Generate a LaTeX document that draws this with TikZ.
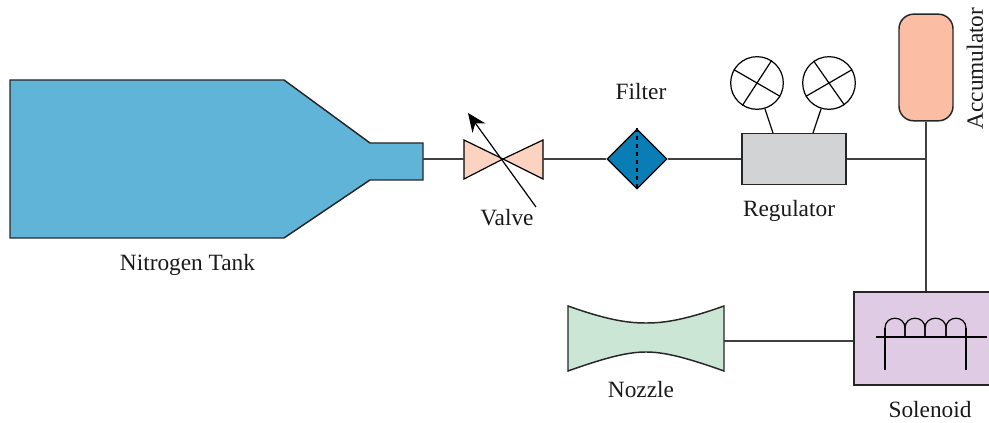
\documentclass[tikz,border=0pt]{standalone}
\usepackage{fontspec}
\setmainfont{Liberation Serif}
\usetikzlibrary{positioning,shapes.geometric,arrows.meta}
\definecolor{tankblue}{HTML}{5FB4D8}
\definecolor{valvepink}{HTML}{FCD3C0}
\definecolor{filterblue}{HTML}{0B7DB5}
\definecolor{reggrey}{HTML}{D1D3D4}
\definecolor{accpink}{HTML}{FBBDA4}
\definecolor{nozzlegreen}{HTML}{CCE6D6}
\definecolor{solpurple}{HTML}{DFCCE4}

\begin{document}
\begin{tikzpicture}[
  x=0.75pt, y=-0.75pt,
  pipe/.style = {draw=black!75, line width=1.1pt},
  part/.style = {draw=black!85, line width=1.1pt},
  thin part/.style = {draw=black, line width=0.9pt},
  label/.style = {font=\fontsize{17.5}{19}\selectfont, text=black!90, inner sep=0pt},
  gauge/.style = {shape=circle, thin part, fill=white, minimum size=39.5pt, inner sep=0pt}
    ]
  \useasboundingbox (0,0) rectangle (989,423);

  % tank
  \draw[part, fill=tankblue] (10,80) -- (284,80) -- (370,143) -- (423,143) -- (423,180)
    -- (370,180) -- (284,238) -- (10,238) -- cycle;
  \coordinate (tankout) at (423,159);
  \node[label] (tanklabel) at (187.5,265) {Nitrogen Tank};

  % valve
  \coordinate (valvein) at (464,159);
  \coordinate (valvemid) at (503,159);
  \coordinate (valveout) at (543,159);
  \draw[thin part, fill=valvepink] (464,140) -- (valvemid) -- (464,179) -- cycle;
  \draw[thin part, fill=valvepink] (543,140) -- (valvemid) -- (543,179) -- cycle;
  \coordinate (valvetail) at (536,207);
  \coordinate (valvetip) at (468,113);
  \draw[thin part, -{Stealth[length=14pt,width=12pt]}] (valvetail) -- (valvetip);
  \node[label] (valvelabel) at (507,218) {Valve};

  % filter
  \node[shape=diamond, thin part, fill=filterblue, minimum size=45pt, inner sep=0pt] (filter) at (637,159) {};
  \draw[thin part, dashed] (filter.north) -- (filter.south);
  \node[label] (filterlabel) at (641,92) {Filter};

  % regulator
  \node[shape=rectangle, part, fill=reggrey, minimum width=78pt, minimum height=38pt, inner sep=0pt] (regulator) at (794,159) {};
  \node[label] (regulatorlabel) at (789,211) {Regulator};
  \node[gauge] (gaugeL) at (757,83) {};
  \node[gauge] (gaugeR) at (829,83) {};
  \draw[thin part] (gaugeL.150) -- (gaugeL.-30) (gaugeL.57) -- (gaugeL.237);
  \draw[thin part] (gaugeR.30) -- (gaugeR.210) (gaugeR.125) -- (gaugeR.-55);
  \coordinate (stemL) at (773,133);
  \coordinate (stemR) at (813,133);
  \draw[thin part] (gaugeL.-73) -- (stemL);
  \draw[thin part] (gaugeR.-107) -- (stemR);

  % accumulator
  \node[shape=rectangle, part, fill=accpink, rounded corners=11pt, minimum width=40.5pt, minimum height=80pt, inner sep=0pt] (accumulator) at (926,67.5) {};
  \node[label, rotate=90] (accumulatorlabel) at (975,68.5) {Accumulator};

  % solenoid
  \node[shape=rectangle, part, fill=solpurple, minimum width=103pt, minimum height=70pt, inner sep=0pt] (solenoid) at (922.7,338.5) {};
  \node[label] (solenoidlabel) at (930,410) {Solenoid};
  \draw[thin part] (876,337) -- (987,337);
  \draw[thin part] (885,370) -- (885,328);
  \draw[thin part] (966,370) -- (966,328);
  \foreach \a/\b in {885/905,905/925,925/946,946/966}
    \draw[thin part] (\a,337) -- (\a,328) .. controls (\a,315) and (\b,315) .. (\b,328) -- (\b,337);

  % nozzle
  \draw[part, fill=nozzlegreen] (568,306) .. controls (610,321) and (630,323) .. (646,323)
    .. controls (662,323) and (682,321) .. (724,306) -- (724,371)
    .. controls (682,356) and (662,352) .. (646,352)
    .. controls (630,352) and (610,356) .. (568,371) -- cycle;
  \coordinate (nozzleout) at (724,341);
  \node[label] (nozzlelabel) at (641,390) {Nozzle};

  % pipes
  \coordinate (junction) at (926,159);
  \draw[pipe] (tankout) -- (valvein);
  \draw[pipe] (valveout) -- (filter.west);
  \draw[pipe] (filter.east) -- (regulator.west);
  \draw[pipe] (regulator.east) -- (junction);
  \draw[pipe] (accumulator.south) -- (solenoid.north -| accumulator.south);
  \draw[pipe] (nozzleout) -- (nozzleout -| solenoid.west);
\end{tikzpicture}
\end{document}
